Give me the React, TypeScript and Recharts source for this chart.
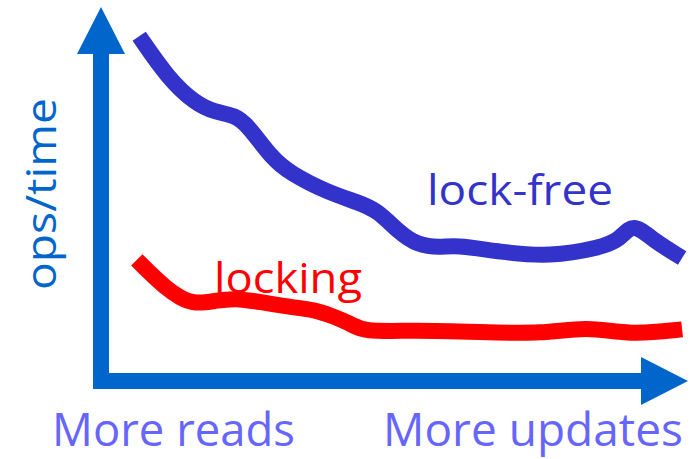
import { LineChart, Line, XAxis, YAxis, ReferenceLine, ReferenceDot, Customized } from "recharts";

// x = share of updates (0..100), y = relative ops/time (0..100)
const lockFreeX = [6.5, 11.4, 16.0, 19.4, 22.8, 25.0, 29.1, 32.2, 38.5, 44.1, 47.0, 50.9, 53.8, 57.8, 60.3, 68.0, 76.5, 85.0, 88.4, 90.6, 94.0, 99.0];
const lockFreeY = [92.2, 81.0, 74.3, 71.9, 71.1, 68.4, 59.6, 55.6, 50.5, 47.6, 45.7, 39.6, 36.4, 35.6, 36.4, 34.5, 33.2, 35.6, 37.7, 42.5, 37.7, 32.9];
const lockingX = [6.1, 8.3, 10.9, 13.5, 16.0, 19.4, 22.8, 27.1, 32.2, 36.5, 39.0, 42.4, 44.6, 53.2, 64.6, 75.3, 82.8, 90.1, 99.0];
const lockingY = [32.4, 28.9, 25.1, 22.2, 20.6, 21.4, 22.2, 21.1, 19.8, 19.0, 17.6, 15.5, 13.1, 13.6, 13.1, 12.6, 14.6, 12.3, 13.8];

const seriesNames = ["lock-free", "locking"];
const axisLabels = ["More reads", "More updates", "ops/time"];

const lockFree = lockFreeX.map((x, i) => ({ x, y: lockFreeY[i] }));
const locking = lockingX.map((x, i) => ({ x, y: lockingY[i] }));

const AXIS = "#0066CC";
const BLUE = "#3333CC";
const RED = "#FF0000";
const LABEL = "#6666FF";
const FONT = "'Open Sans', 'Noto Sans', sans-serif";

const UpArrow = (p: any) => (
  <polygon points={`${p.cx},${p.cy} ${p.cx - 24},${p.cy + 47} ${p.cx + 24},${p.cy + 47}`} fill={AXIS} />
);
const RightArrow = (p: any) => (
  <polygon points={`${p.cx},${p.cy} ${p.cx - 47},${p.cy - 24} ${p.cx - 47},${p.cy + 24}`} fill={AXIS} />
);

const Texts = () => (
  <g fontFamily={FONT}>
    <text x={427} y={205} fontSize={42} fill={BLUE} textLength={186} lengthAdjust="spacingAndGlyphs">{seriesNames[0]}</text>
    <text x={214} y={293} fontSize={42} fill={RED} textLength={148} lengthAdjust="spacingAndGlyphs">{seriesNames[1]}</text>
    <text x={52} y={446} fontSize={45} fill={LABEL} textLength={243} lengthAdjust="spacingAndGlyphs">{axisLabels[0]}</text>
    <text x={383} y={446} fontSize={45} fill={LABEL} textLength={300} lengthAdjust="spacingAndGlyphs">{axisLabels[1]}</text>
    <text transform="translate(56,290) rotate(-90)" fontSize={42} fill={AXIS} textLength={192} lengthAdjust="spacingAndGlyphs">{axisLabels[2]}</text>
  </g>
);

export default function App() {
  return (
    <div style={{ position: "absolute", left: 0, top: 0, width: 693, height: 459, background: "#fff" }}>
      <LineChart width={693} height={459} margin={{ top: 7, right: 5, left: 101, bottom: 78 }}>
        <XAxis type="number" dataKey="x" domain={[0, 100]} hide />
        <YAxis type="number" dataKey="y" domain={[0, 100]} hide />
        <ReferenceLine segment={[{ x: 0, y: -2.14 }, { x: 0, y: 88 }]} stroke={AXIS} strokeWidth={16} ifOverflow="visible" />
        <ReferenceLine segment={[{ x: -1.36, y: 0 }, { x: 92, y: 0 }]} stroke={AXIS} strokeWidth={16} ifOverflow="visible" />
        <ReferenceDot x={0} y={100} r={0} shape={UpArrow} ifOverflow="visible" />
        <ReferenceDot x={100} y={0} r={0} shape={RightArrow} ifOverflow="visible" />
        <Line data={locking} dataKey="y" type="basis" stroke={RED} strokeWidth={16} dot={false} isAnimationActive={false} />
        <Line data={lockFree} dataKey="y" type="basis" stroke={BLUE} strokeWidth={16} dot={false} isAnimationActive={false} />
        <Customized component={Texts} />
      </LineChart>
    </div>
  );
}
